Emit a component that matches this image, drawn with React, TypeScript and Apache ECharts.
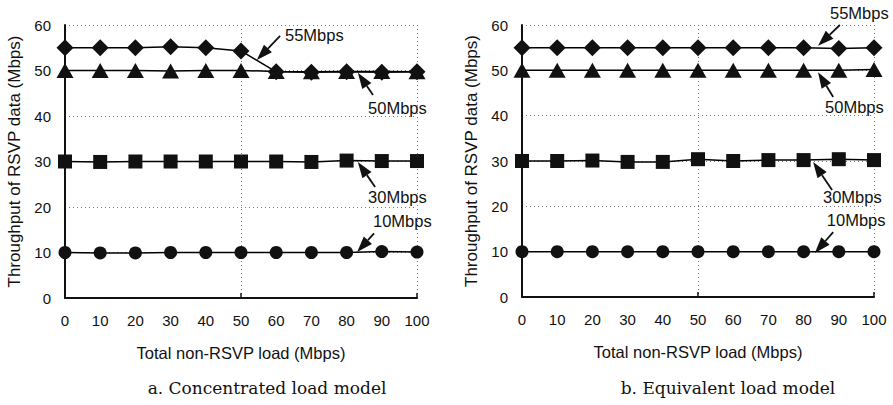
import React, { useEffect, useRef } from "react";
import * as echarts from "echarts";

const loads = [0, 10, 20, 30, 40, 50, 60, 70, 80, 90, 100];
const xTicks = loads;
const yTicks = [0, 10, 20, 30, 40, 50, 60];

// a. Concentrated load model
const left55 = [55, 55, 55, 55.2, 55, 54.3, 49.7, 49.6, 49.7, 49.6, 49.7];
const left50 = [50, 50, 50, 49.9, 50, 50, 49.8, 49.7, 49.8, 49.8, 49.7];
const left30 = [30, 29.9, 30, 30, 30, 30, 30, 29.9, 30.2, 30.1, 30.1];
const left10 = [10, 9.9, 9.9, 10, 10, 10, 10, 10, 10, 10.2, 10.1];

// b. Equivalent load model
const right55 = [55, 55, 55, 55, 55, 55, 55, 55, 55, 54.8, 55];
const right50 = [50, 50, 50, 50, 50, 50, 50, 50, 50, 50, 50.2];
const right30 = [30, 30, 30.1, 29.8, 29.8, 30.4, 30, 30.2, 30.2, 30.4, 30.2];
const right10 = [10, 10, 10, 10, 10, 10, 10, 10, 10, 10, 10];

const seriesNames = ["55Mbps", "50Mbps", "30Mbps", "10Mbps"];
const captions = ["a. Concentrated load model", "b. Equivalent load model"];

// annotations: [label, tailX, tailY, headX, headY, labelX, labelY] in data coordinates
const leftNotes: [string, number, number, number, number, number, number][] = [
  ["55Mbps", 61.1, 57.6, 54.5, 52.3, 62.5, 57.8],
  ["50Mbps", 87.5, 44.6, 83.2, 49.5, 86.1, 41.8],
  ["30Mbps", 88.1, 24.4, 83.2, 29.9, 86.1, 22.2],
  ["10Mbps", 87.8, 14.2, 83.0, 10.1, 87.5, 16.9],
];
const rightNotes: [string, number, number, number, number, number, number][] = [
  ["55Mbps", 90.3, 60.0, 84.1, 55.4, 87.5, 62.6],
  ["50Mbps", 88.4, 44.1, 84.1, 49.6, 86.1, 41.9],
  ["30Mbps", 88.1, 23.6, 82.7, 29.8, 85.5, 22.1],
  ["10Mbps", 88.4, 14.3, 83.2, 9.7, 86.6, 17.0],
];

const FONT = "Liberation Sans, Arial, Helvetica, sans-serif";
const INK = "#111";

const symbols: { symbol: string; size: number | number[] }[] = [
  { symbol: "diamond", size: [17, 17] },
  { symbol: "triangle", size: [17, 15] },
  { symbol: "rect", size: 14 },
  { symbol: "circle", size: 13 },
];

export default function App() {
  const ref = useRef<HTMLDivElement>(null);

  useEffect(() => {
    if (!ref.current) return;
    const chart = echarts.init(ref.current, undefined, { renderer: "svg" });

    const grids = [
      { left: 65, top: 25, width: 352, height: 273 },
      { left: 522, top: 25, width: 352, height: 272 },
    ];

    const xAxes: any[] = [];
    const yAxes: any[] = [];
    grids.forEach((_, g) => {
      xAxes.push({
        type: "value",
        gridIndex: g,
        position: "bottom",
        min: 0,
        max: 100,
        interval: 10,
        name: "Total non-RSVP load (Mbps)",
        nameLocation: "middle",
        nameGap: 46,
        nameTextStyle: { fontFamily: FONT, fontSize: 16.5, color: INK },
        axisLine: { show: true, lineStyle: { color: INK, width: 2 } },
        axisTick: { show: false },
        axisLabel: {
          fontFamily: FONT,
          fontSize: 15,
          color: INK,
          margin: 15,
          formatter: (v: number) => (xTicks.includes(v) ? String(v) : ""),
        },
        splitLine: { show: false },
      });
      xAxes.push({
        type: "value",
        gridIndex: g,
        position: "bottom",
        min: 0,
        max: 100,
        interval: 50,
        axisLine: { show: false },
        axisLabel: { show: false },
        axisTick: { show: true, inside: true, length: 5, lineStyle: { color: INK, width: 1.5 } },
        splitLine: { show: true, lineStyle: { color: "#777", type: [1, 3], width: 1 } },
      });
      yAxes.push({
        type: "value",
        gridIndex: g,
        min: 0,
        max: 60,
        interval: 10,
        name: "Throughput of RSVP data (Mbps)",
        nameLocation: "middle",
        nameGap: 42,
        nameTextStyle: { fontFamily: FONT, fontSize: 17, color: INK },
        axisLine: { show: true, lineStyle: { color: INK, width: 2 } },
        axisTick: { show: false },
        axisLabel: {
          fontFamily: FONT,
          fontSize: 15,
          color: INK,
          margin: 14,
          formatter: (v: number) => (yTicks.includes(v) ? String(v) : ""),
        },
        splitLine: { show: true, lineStyle: { color: "#777", type: [1, 3], width: 1 } },
      });
    });

    const dataSets = [
      [left55, left50, left30, left10],
      [right55, right50, right30, right10],
    ];
    const series: any[] = [];
    dataSets.forEach((sets, g) => {
      sets.forEach((vals, i) => {
        series.push({
          type: "line",
          name: seriesNames[i],
          xAxisIndex: g * 2,
          yAxisIndex: g,
          data: loads.map((x, k) => [x, vals[k]]),
          symbol: symbols[i].symbol,
          symbolSize: symbols[i].size,
          showAllSymbol: true,
          itemStyle: { color: INK, borderColor: INK, borderWidth: 0 },
          lineStyle: { color: "#000", width: 1.5 },
          z: 5 + (3 - i),
          silent: true,
        });
      });
    });

    chart.setOption({
      animation: false,
      backgroundColor: "#fff",
      grid: grids,
      xAxis: xAxes,
      yAxis: yAxes,
      series,
    });

    const graphics: any[] = [];
    const notes = [leftNotes, rightNotes];
    notes.forEach((list, g) => {
      list.forEach(([label, tx, ty, hx, hy, lx, ly]) => {
        const t = chart.convertToPixel({ gridIndex: g } as any, [tx, ty]) as number[];
        const h = chart.convertToPixel({ gridIndex: g } as any, [hx, hy]) as number[];
        const l = chart.convertToPixel({ gridIndex: g } as any, [lx, ly]) as number[];
        const dx = h[0] - t[0];
        const dy = h[1] - t[1];
        const len = Math.sqrt(dx * dx + dy * dy) || 1;
        const ux = dx / len;
        const uy = dy / len;
        const headLen = 16;
        const halfW = 5.5;
        const bx = h[0] - ux * headLen;
        const by = h[1] - uy * headLen;
        graphics.push({
          type: "line",
          shape: { x1: t[0], y1: t[1], x2: bx, y2: by },
          style: { stroke: INK, lineWidth: 1.8 },
          z: 20,
          silent: true,
        });
        graphics.push({
          type: "polygon",
          shape: {
            points: [
              [h[0], h[1]],
              [bx - uy * halfW, by + ux * halfW],
              [bx + uy * halfW, by - ux * halfW],
            ],
          },
          style: { fill: INK },
          z: 20,
          silent: true,
        });
        graphics.push({
          type: "text",
          x: l[0],
          y: l[1],
          style: {
            text: label,
            fontFamily: FONT,
            fontSize: 16.5,
            fill: INK,
            align: "left",
            verticalAlign: "middle",
          },
          z: 20,
          silent: true,
        });
      });
    });
    const captionX = [267, 728];
    captions.forEach((c, i) => {
      graphics.push({
        type: "text",
        x: captionX[i],
        y: 388,
        style: {
          text: c,
          fontFamily: "DejaVu Serif, serif",
          fontSize: 17,
          fill: INK,
          align: "center",
          verticalAlign: "middle",
        },
        silent: true,
      });
    });

    chart.setOption({ graphic: graphics });

    return () => chart.dispose();
  }, []);

  return (
    <div
      ref={ref}
      style={{ position: "absolute", left: 0, top: 0, width: 893, height: 405 }}
    />
  );
}
